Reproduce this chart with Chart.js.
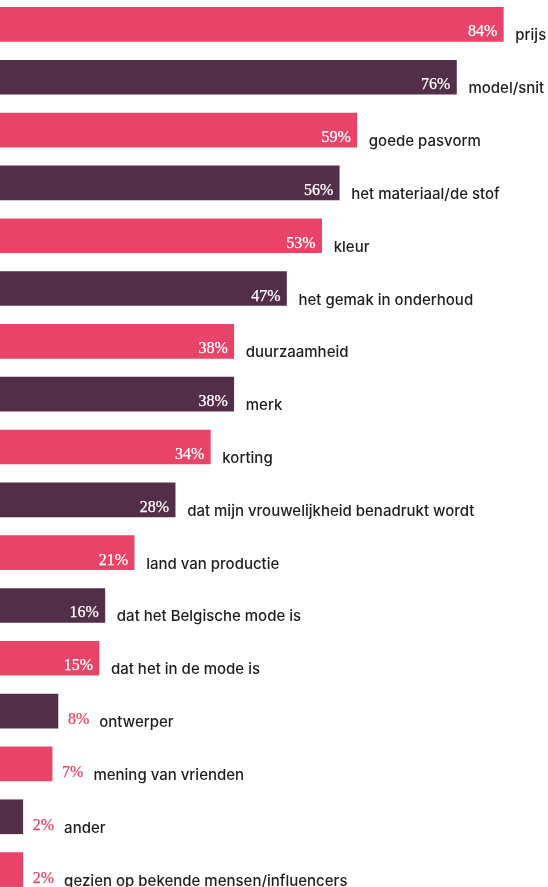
<!DOCTYPE html>
<html lang="nl">
  <head>
    <meta charset="UTF-8" />
    <title>Aankoopcriteria</title>
    <script src="https://cdn.jsdelivr.net/npm/chart.js"></script>
    <style>
        html, body {
            margin: 0;
            padding: 0;
            background: #ffffff;
            overflow: hidden;
        }
        .chart-wrap {
            position: absolute;
            left: 0;
            top: -2px;
            width: 548px;
            height: 898px;
        }
    </style>
  </head>
  <body>
    <div class="chart-wrap">
        <canvas id="criteriaChart"></canvas>
    </div>

    <script>
        const categories = [
            'prijs', 'model/snit', 'goede pasvorm', 'het materiaal/de stof', 'kleur',
            'het gemak in onderhoud', 'duurzaamheid', 'merk', 'korting',
            'dat mijn vrouwelijkheid benadrukt wordt', 'land van productie',
            'dat het Belgische mode is', 'dat het in de mode is', 'ontwerper',
            'mening van vrienden', 'ander', 'gezien op bekende mensen/influencers'
        ];
        const percentages = [84, 76, 59, 56, 53, 47, 38, 38, 34, 28, 21, 16, 15, 8, 7, 2, 2];

        const PINK = '#e84368';
        const PLUM = '#522f47';
        const barColors = categories.map((c, i) => i % 2 === 0 ? PINK : PLUM);

        // bars start a little left of the zero point, like the original
        const axisStart = -1.89;

        // Draw value + category labels next to every bar
        const barLabels = {
            id: 'barLabels',
            afterDatasetsDraw(chart) {
                const ctx = chart.ctx;
                const bars = chart.getDatasetMeta(0).data;
                ctx.save();
                bars.forEach((bar, i) => {
                    const v = percentages[i];
                    const bottom = bar.y + bar.height / 2;
                    const valueText = v + '%';
                    ctx.font = '16px "Liberation Serif", serif';
                    ctx.textBaseline = 'alphabetic';
                    ctx.lineWidth = 0.25;
                    let labelX, vx, vy;
                    if (v >= 10) {
                        ctx.fillStyle = ctx.strokeStyle = '#ffffff';
                        ctx.textAlign = 'right';
                        vx = bar.x - 6;
                        vy = bottom - 5;
                        labelX = bar.x + 12;
                    } else {
                        ctx.fillStyle = ctx.strokeStyle = PINK;
                        ctx.textAlign = 'left';
                        vx = bar.x + 10;
                        vy = bottom - 4;
                        labelX = vx + ctx.measureText(valueText).width + 10;
                    }
                    ctx.fillText(valueText, vx, vy);
                    ctx.strokeText(valueText, vx, vy);

                    ctx.font = '500 15px Inter, "Noto Sans", sans-serif';
                    ctx.fillStyle = '#1e1e1e';
                    ctx.textAlign = 'left';
                    ctx.fillText(categories[i], labelX, bottom - 1);
                });
                ctx.restore();
            }
        };

        const ctx = document.getElementById('criteriaChart').getContext('2d');
        new Chart(ctx, {
            type: 'bar',
            data: {
                labels: categories,
                datasets: [{
                    data: percentages,
                    backgroundColor: barColors,
                    borderWidth: 0,
                    barThickness: 34,
                    base: axisStart
                }]
            },
            options: {
                indexAxis: 'y',
                responsive: true,
                maintainAspectRatio: false,
                animation: false,
                layout: { padding: 0 },
                plugins: {
                    legend: { display: false },
                    tooltip: { enabled: false }
                },
                scales: {
                    x: {
                        display: false,
                        min: axisStart,
                        max: axisStart + 548 / 5.86
                    },
                    y: {
                        display: false
                    }
                }
            },
            plugins: [barLabels]
        });
    </script>
  </body>
</html>
